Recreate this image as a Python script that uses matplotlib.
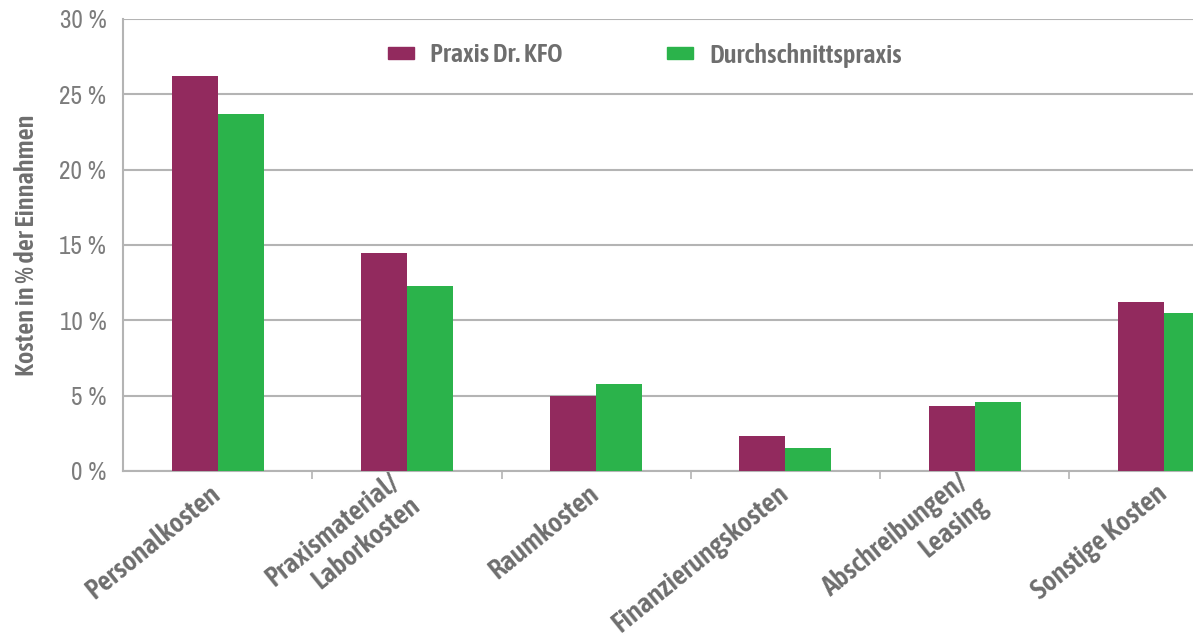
import matplotlib.pyplot as plt
import matplotlib.font_manager as fm
import numpy as np
from matplotlib.patches import Patch

categories = ["Personalkosten", "Praxismaterial/\nLaborkosten", "Raumkosten",
              "Finanzierungskosten", "Abschreibungen/\nLeasing", "Sonstige Kosten"]
praxis_kfo = [26.2, 14.5, 5.0, 2.3, 4.3, 11.2]
durchschnitt = [23.7, 12.3, 5.8, 1.5, 4.6, 10.5]
yticks = [0, 5, 10, 15, 20, 25, 30]
series_names = ["Praxis Dr. KFO", "Durchschnittspraxis"]

maroon = "#922a5e"
green = "#2bb34b"
gray = "#6e6e6e"
lightgray = "#7c7c7c"
gridc = "#b4b4b4"

# condensed faces, closest to the narrow grotesk of the original
names = {f.name for f in fm.fontManager.ttflist}
regular_font = ["Archivo Narrow" if "Archivo Narrow" in names else "DejaVu Sans", "DejaVu Sans"]
bold_font = ["Asap Condensed" if "Asap Condensed" in names else "DejaVu Sans", "DejaVu Sans"]
bold_w = 600

fig = plt.figure(figsize=(11.93, 6.41), dpi=100)
# axes runs past the right edge, the source picture is cut off there
ax = fig.add_axes([123/1193, 170/641, 6*189.25/1193, 452/641])

x = np.arange(len(categories))
w = 0.243
ax.bar(x - w/2, praxis_kfo, w, color=maroon, zorder=3)
ax.bar(x + w/2, durchschnitt, w, color=green, zorder=3)

ax.set_xlim(-0.5, len(categories) - 0.5)
ax.set_ylim(0, 30)
ax.set_yticks(yticks)
ax.set_yticklabels([f"{v} %" for v in yticks], family=regular_font,
                   fontsize=18, color=lightgray)
ax.tick_params(axis="y", length=0, pad=12)
ax.yaxis.grid(True, color=gridc, linewidth=1.5, zorder=0)

ax.set_xticks(x)
ax.set_xticklabels(categories, rotation=39, ha="right", va="center",
                   rotation_mode="anchor", multialignment="right",
                   family=bold_font, fontsize=20.5,
                   fontweight=bold_w, color=gray)
ax.tick_params(axis="x", which="major", length=0, pad=14)
ax.set_xticks(np.arange(0.5, len(categories) - 0.5, 1.0), minor=True)
ax.tick_params(axis="x", which="minor", length=6, width=1.2, color=gridc)

for s in ["top", "right"]:
    ax.spines[s].set_visible(False)
for s in ["left", "bottom"]:
    ax.spines[s].set_color(gridc)
    ax.spines[s].set_linewidth(1.5)

fig.text(27/1193, 1 - 245/641, "Kosten in % der Einnahmen", rotation=90,
         ha="center", va="center", family=bold_font, fontsize=19,
         fontweight=bold_w, color=gray)

handles = [Patch(color=maroon), Patch(color=green)]
fig.legend(handles, series_names, loc="center left", ncol=2,
           bbox_to_anchor=(388/1193, 1 - 55/641), frameon=False,
           handlelength=1.0, handleheight=0.34, handletextpad=0.6,
           columnspacing=3.95, borderaxespad=0, borderpad=0,
           prop={"family": bold_font, "size": 19, "weight": bold_w},
           labelcolor=gray)

fig.savefig("out.png", dpi=100)
